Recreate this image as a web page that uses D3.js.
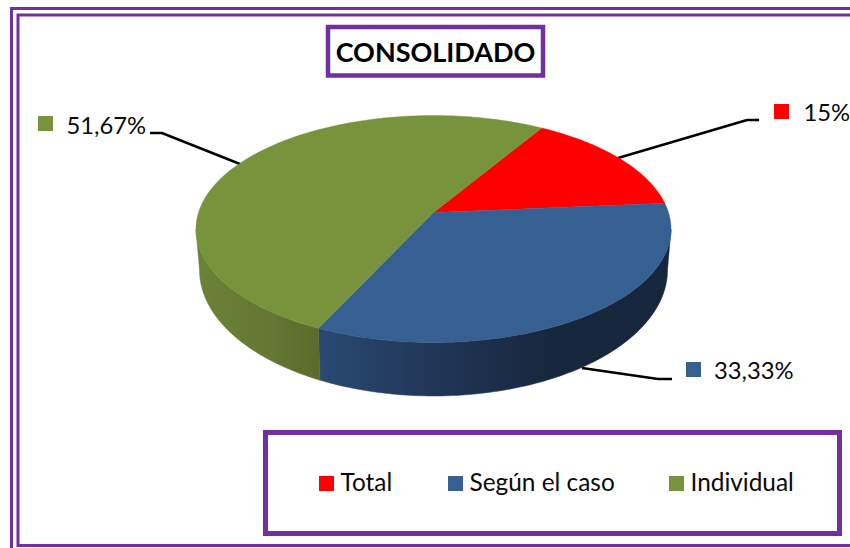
<!DOCTYPE html>
<html><head><meta charset="utf-8">
<script src="https://cdn.jsdelivr.net/npm/d3@7/dist/d3.min.js"></script>
<style>html,body{margin:0;padding:0;background:#fff}svg{display:block}text{font-family:Lato,Carlito,sans-serif;fill:#0a0a0a}</style>
</head><body><div id="c"></div>
<script>
const categories = ["Total", "Según el caso", "Individual"];
const values = [15, 33.33, 51.67];
const valueLabels = ["15%", "33,33%", "51,67%"];
const colors = ["#ff0000", "#376092", "#77933c"];
const titleText = "CONSOLIDADO";

const W = 850, H = 548, purple = "#7030a0";
const svg = d3.select("#c").append("svg").attr("width", W).attr("height", H);
const defs = svg.append("defs");

// Perspective projection of the pie's circular faces
const k = 0.1454, cx = 433.5;
const top3d = {a: 235, b: 111.1, y0: 212.5};
const bot3d = {a: 231.5, b: 123.3, y0: 251.7};
const project = (f, r, ang) => {
  const u = r * Math.sin(ang), v = -r * Math.cos(ang), d = 1 - k * v;
  return [cx + f.a * u / d, f.y0 + f.b * v / d];
};
const rad = d => d * Math.PI / 180;
const slices = d3.pie().sort(null).value(d => d)
  .startAngle(rad(31.2)).endAngle(rad(391.2))(values);
const samples = (a0, a1) => {
  const n = Math.max(2, Math.ceil(Math.abs(a1 - a0) / rad(1)));
  return d3.range(n + 1).map(i => a0 + (a1 - a0) * i / n);
};
const line = d3.line();

// frames
svg.append("path").attr("d", `M11.5 ${H + 5}V8.5H${W + 5}`)
  .attr("fill", "none").attr("stroke", purple).attr("stroke-width", 3);
svg.append("rect").attr("x", 18).attr("y", 15).attr("width", W + 10).attr("height", 530.5)
  .attr("fill", "#fff").attr("stroke", purple).attr("stroke-width", 3);

// side walls: visible from the right tangent to the left tangent
const visFrom = rad(90 + 8.4), visTo = rad(270 - 8.4);
const wallStops = {
  1: [[319, "#2a4a72"], [420, "#21385a"], [560, "#16263c"], [670, "#16263c"]],
  2: [[198, "#6b8238"], [270, "#647733"], [319, "#5a6b2b"]]
};
slices.forEach((s, i) => {
  const a0 = Math.max(s.startAngle, visFrom), a1 = Math.min(s.endAngle, visTo);
  if (a1 <= a0) return;
  const stops = wallStops[i];
  const g = defs.append("linearGradient").attr("id", "wall" + i)
    .attr("gradientUnits", "userSpaceOnUse")
    .attr("x1", stops[0][0]).attr("x2", stops[stops.length - 1][0]).attr("y1", 0).attr("y2", 0);
  const off = d3.scaleLinear().domain([stops[0][0], stops[stops.length - 1][0]]).range([0, 1]);
  stops.forEach(st => g.append("stop").attr("offset", off(st[0])).attr("stop-color", st[1]));
  const range = samples(a0, a1);
  const pts = range.map(a => project(top3d, 1, a))
    .concat(range.slice().reverse().map(a => project(bot3d, 1, a)));
  svg.append("path").attr("d", line(pts) + "Z").attr("fill", `url(#wall${i})`)
    .attr("stroke", `url(#wall${i})`).attr("stroke-width", 0.5);
});

// leader lines (under the pie)
const leaders = [
  [[759, 120], [747, 120], [618, 158]],
  [[672, 379], [658, 379], [582, 368]],
  [[150, 133], [162, 133], [240, 164]]
];
leaders.forEach(l => svg.append("path").attr("d", line(l)).attr("fill", "none")
  .attr("stroke", "#000").attr("stroke-width", 2.6));

// top face
slices.forEach((s, i) => {
  const pts = [project(top3d, 0, 0)].concat(samples(s.startAngle, s.endAngle).map(a => project(top3d, 1, a)));
  svg.append("path").attr("d", line(pts) + "Z").attr("fill", colors[i])
    .attr("stroke", colors[i]).attr("stroke-width", 0.4);
});

// data labels
const labelPos = [[774, 104, 803.5, 121], [686, 362, 714, 379], [38, 116, 66.5, 134]];
valueLabels.forEach((t, i) => {
  const p = labelPos[i];
  svg.append("rect").attr("x", p[0]).attr("y", p[1]).attr("width", 15).attr("height", 15).attr("fill", colors[i]);
  svg.append("text").attr("x", p[2]).attr("y", p[3]).attr("font-size", 23.8).text(t);
});

// title
svg.append("rect").attr("x", 328).attr("y", 27).attr("width", 215).attr("height", 48.5)
  .attr("fill", "#fff").attr("stroke", purple).attr("stroke-width", 4.5);
svg.append("text").attr("x", 435.5).attr("y", 62).attr("text-anchor", "middle")
  .attr("font-size", 27).attr("font-weight", 700).style("fill", "#000").text(titleText);

// legend
svg.append("rect").attr("x", 265.5).attr("y", 432.5).attr("width", 574).attr("height", 101)
  .attr("fill", "#fff").attr("stroke", purple).attr("stroke-width", 5);
const legendX = [319, 448, 669];
categories.forEach((c, i) => {
  svg.append("rect").attr("x", legendX[i]).attr("y", 476).attr("width", 15).attr("height", 15).attr("fill", colors[i]);
  svg.append("text").attr("x", legendX[i] + 21.5).attr("y", 491).attr("font-size", 24.4).text(c);
});
</script></body></html>
